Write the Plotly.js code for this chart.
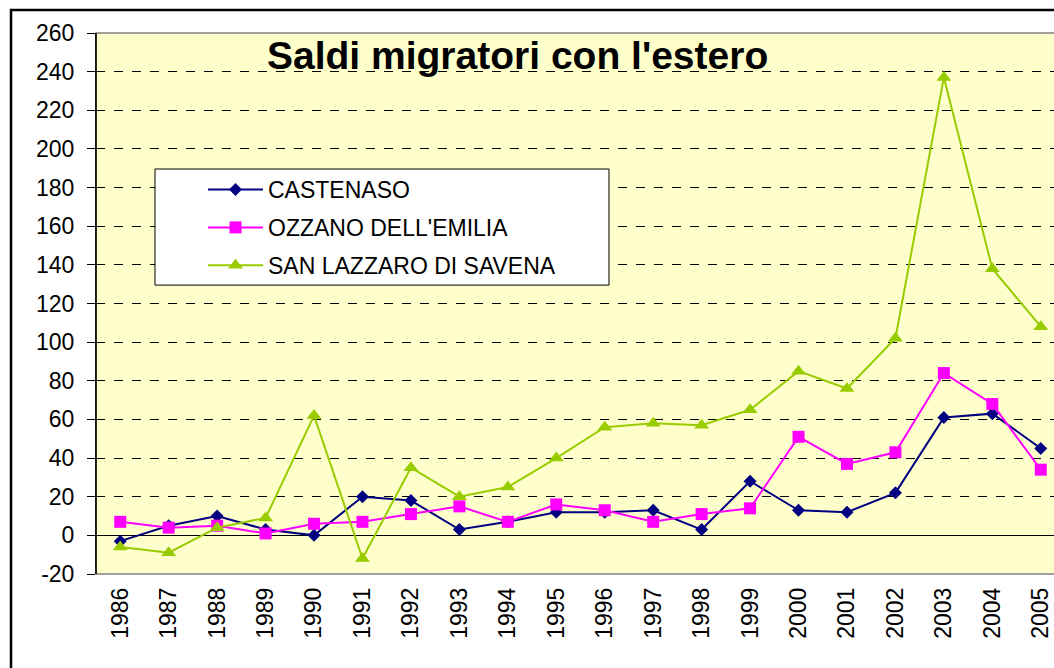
<!DOCTYPE html>
<html>
<head>
<meta charset="utf-8">
<script src="https://cdn.plot.ly/plotly-3.0.1.min.js"></script>
<style>
html,body{margin:0;padding:0;overflow:hidden;background:#fff;}
#chart{width:1080px;height:668px;}
</style>
</head>
<body>
<div id="chart"></div>
<script>
const years = ['1986','1987','1988','1989','1990','1991','1992','1993','1994','1995','1996','1997','1998','1999','2000','2001','2002','2003','2004','2005'];
const castenaso = [-3,5,10,3,0,20,18,3,7,12,12,13,3,28,13,12,22,61,63,45];
const ozzano = [7,4,5,1,6,7,11,15,7,16,13,7,11,14,51,37,43,84,68,34];
const sanLazzaro = [-6,-9,4,9,62,-12,35,20,25,40,56,58,57,65,85,76,102,237,138,108];
const seriesNames = ['CASTENASO',"OZZANO DELL'EMILIA",'SAN LAZZARO DI SAVENA'];
const chartTitle = "Saldi migratori con l'estero";
const yTicks = [-20,0,20,40,60,80,100,120,140,160,180,200,220,240,260];
const yTickText = ['-20','0','20','40','60','80','100','120','140','160','180','200','220','240','260'];

const FONT = 'Liberation Sans, Arial, sans-serif';

const traces = [
  {x: years, y: castenaso, name: seriesNames[0], type:'scatter', mode:'lines+markers', legendgroup:'a',
   line:{color:'#000080', width:2}, marker:{symbol:'diamond', size:10, color:'#000080'}},
  {x: years, y: ozzano, name: seriesNames[1], type:'scatter', mode:'lines+markers', legendgroup:'b',
   line:{color:'#FF00FF', width:2}, marker:{symbol:'square', size:12, color:'#FF00FF'}},
  {x: years, y: sanLazzaro, name: seriesNames[2], type:'scatter', mode:'lines+markers', legendgroup:'c',
   line:{color:'#99CC00', width:2}, marker:{symbol:'triangle-up', size:13, color:'#99CC00'}}
];

const boundaries = [-0.5].concat(years.map((_, i) => i + 0.5));

const layout = {
  width: 1080, height: 668,
  margin: {l:96, r:15, t:33, b:94},
  paper_bgcolor: '#FFFFFF',
  plot_bgcolor: '#FFFFCC',
  font: {family: FONT, color:'#000000', size:23},
  showlegend: true,
  legend: {
    x: 0.0609, y: 0.7504, xanchor:'left', yanchor:'top',
    bgcolor:'rgba(0,0,0,0)', borderwidth:0,
    font:{family:FONT, size:23, color:'#000000'},
    traceorder:'grouped', tracegroupgap:5,
    itemwidth:55, indentation:48
  },
  xaxis: {
    type:'category', range:[-0.5, 19.5],
    tickangle:-90, ticks:'', showgrid:false, zeroline:false, showline:false,
    tickfont:{family:FONT, size:23, color:'#000000'},
    ticklabelstandoff: 8,
    fixedrange:true
  },
  xaxis2: {
    overlaying:'x', anchor:'free', position: 20/280,
    range:[-0.5, 19.5], tickmode:'array', tickvals: boundaries,
    ticks:'outside', ticklen:8, tickcolor:'#000000', tickwidth:1,
    showticklabels:false, showgrid:false, zeroline:false, showline:false
  },
  yaxis: {
    range:[-20, 260], tickmode:'array', tickvals: yTicks, ticktext: yTickText,
    showgrid:true, gridcolor:'#000000', griddash:'dash', gridwidth:1,
    zeroline:true, zerolinecolor:'#000000', zerolinewidth:1,
    showline:true, linecolor:'#000000', linewidth:1,
    ticks:'outside', ticklen:8, tickcolor:'#000000',
    tickfont:{family:FONT, size:23, color:'#000000'},
    ticklabelstandoff: 8,
    fixedrange:true
  },
  annotations: [{
    text:'<b>' + chartTitle + '</b>', xref:'paper', yref:'paper',
    x:0.4345, y:0.959, xanchor:'center', yanchor:'middle', showarrow:false,
    font:{family:FONT, size:39, color:'#000000'}
  }],
  shapes: [
    {type:'rect', xref:'paper', yref:'paper', x0:0.0609, x1:0.5294, y0:0.534, y1:0.7486,
     fillcolor:'#FFFFFF', line:{color:'#000000', width:1}, layer:'above'},
    {type:'rect', xref:'paper', yref:'paper', x0:0, x1:1, y0:0, y1:1,
     line:{color:'#808080', width:1.5}, layer:'above'},
    {type:'line', xref:'paper', yref:'paper', x0:0, x1:0, y0:0, y1:1,
     line:{color:'#000000', width:1.5}, layer:'above'},
    {type:'rect', xref:'paper', yref:'paper', x0:-0.0877, x1:1.2, y0:-0.3, y1:1.0425,
     line:{color:'#000000', width:2.5}, layer:'above'}
  ]
};

Plotly.newPlot('chart', traces, layout, {displayModeBar:false, staticPlot:true});
</script>
</body>
</html>
